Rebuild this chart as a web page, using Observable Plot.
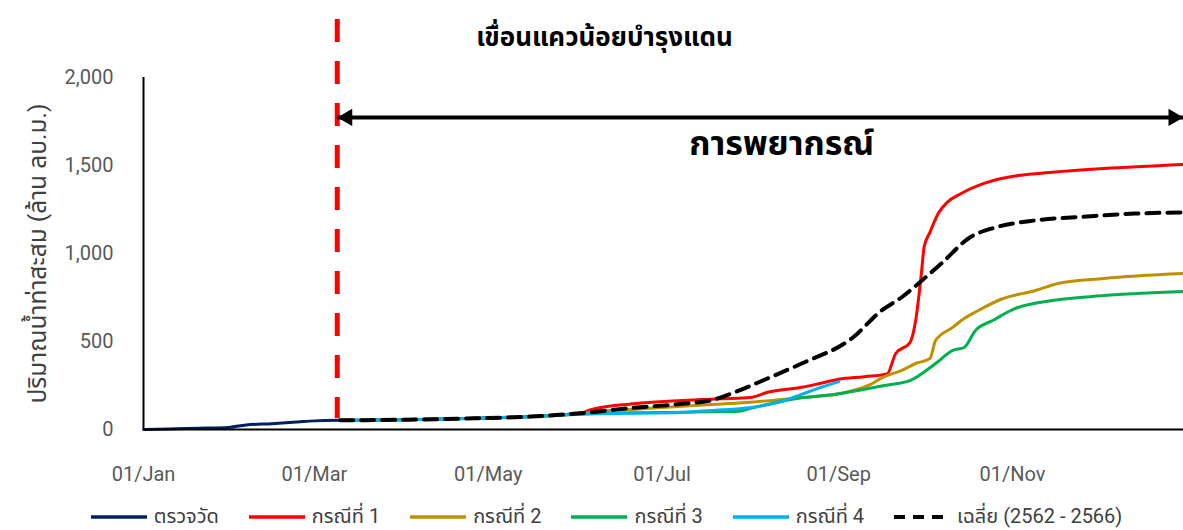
<!DOCTYPE html>
<html>
<head>
<meta charset="utf-8">
<script src="https://cdn.jsdelivr.net/npm/d3@7"></script>
<script src="https://cdn.jsdelivr.net/npm/@observablehq/plot@0.6"></script>
<style>
  body { margin: 0; background: #fff; font-family: Roboto, "Noto Sans", "Noto Sans Thai", Tahoma, sans-serif; }
  #legend { display: flex; justify-content: center; align-items: center; gap: 30px; height: 34px; font-size: 20px; color: #404040; padding-left: 30px; }
  .item { display: flex; align-items: center; gap: 7px; white-space: nowrap; }
</style>
</head>
<body>
<div id="chart"></div>
<div id="legend"></div>
<script>
// Cumulative inflow, Khwae Noi Bamrung Daen dam (million m³), year 2567
const title = "เขื่อนแควน้อยบำรุงแดน";
const yLabel = "ปริมาณน้ำท่าสะสม (ล้าน ลบ.ม.)";
const forecastText = "การพยากรณ์";
const forecastStart = "2024-03-09";
const yearEnd = "2024-12-31";
const arrowLevel = 1773;
const forecastLabelAt = ["2024-08-12", 1620];

const xTicks = ["2024-01-01", "2024-03-01", "2024-05-01", "2024-07-01", "2024-09-01", "2024-11-01"];
const yTicks = [0, 500, 1000, 1500, 2000];

// [date, cumulative volume]
const observed = [
  ["2024-01-01", 0], ["2024-01-10", 3], ["2024-01-20", 7], ["2024-01-31", 12],
  ["2024-02-06", 26], ["2024-02-15", 33], ["2024-02-20", 38], ["2024-02-25", 44],
  ["2024-03-01", 49], ["2024-03-10", 52]
];
const case1 = [
  ["2024-03-10", 52], ["2024-03-19", 53], ["2024-04-23", 62], ["2024-05-16", 74],
  ["2024-06-02", 92], ["2024-06-06", 112], ["2024-06-20", 145], ["2024-07-08", 165],
  ["2024-07-22", 175], ["2024-08-01", 182], ["2024-08-07", 212], ["2024-08-19", 240],
  ["2024-08-25", 260], ["2024-09-01", 285], ["2024-09-10", 300], ["2024-09-18", 316],
  ["2024-09-21", 432], ["2024-09-26", 494], ["2024-09-28", 619], ["2024-09-30", 886],
  ["2024-10-01", 1040], ["2024-10-03", 1120], ["2024-10-06", 1230], ["2024-10-09", 1290],
  ["2024-10-14", 1341], ["2024-10-22", 1398], ["2024-10-28", 1426], ["2024-11-03", 1443],
  ["2024-11-15", 1462], ["2024-12-03", 1483], ["2024-12-31", 1506]
];
const case2 = [
  ["2024-03-10", 52], ["2024-03-19", 53], ["2024-04-23", 62], ["2024-05-16", 74],
  ["2024-06-02", 90], ["2024-06-10", 105], ["2024-06-20", 114], ["2024-07-08", 132],
  ["2024-07-22", 145], ["2024-08-01", 155], ["2024-08-19", 182], ["2024-08-31", 200],
  ["2024-09-12", 255], ["2024-09-17", 300], ["2024-09-23", 335], ["2024-09-28", 375],
  ["2024-10-03", 403], ["2024-10-05", 506], ["2024-10-11", 580], ["2024-10-14", 619],
  ["2024-10-20", 676], ["2024-10-28", 740], ["2024-11-09", 790], ["2024-11-17", 830],
  ["2024-12-03", 858], ["2024-12-31", 886]
];
const case3 = [
  ["2024-03-10", 52], ["2024-03-19", 53], ["2024-04-23", 62], ["2024-05-16", 72],
  ["2024-06-02", 86], ["2024-06-20", 95], ["2024-07-08", 98], ["2024-07-22", 102],
  ["2024-07-28", 104], ["2024-08-01", 120], ["2024-08-19", 180], ["2024-08-31", 200],
  ["2024-09-17", 250], ["2024-09-26", 278], ["2024-10-05", 375], ["2024-10-11", 449],
  ["2024-10-15", 466], ["2024-10-19", 563], ["2024-10-25", 619], ["2024-11-02", 688],
  ["2024-11-15", 733], ["2024-12-03", 761], ["2024-12-31", 784]
];
const case4 = [
  ["2024-03-10", 52], ["2024-03-19", 53], ["2024-04-23", 62], ["2024-05-16", 74],
  ["2024-06-02", 90], ["2024-06-20", 93], ["2024-07-08", 97], ["2024-07-22", 112],
  ["2024-07-29", 119], ["2024-08-07", 140], ["2024-08-13", 165], ["2024-08-19", 200],
  ["2024-08-25", 235], ["2024-09-01", 272]
];
const average = [
  ["2024-03-10", 52], ["2024-03-19", 53], ["2024-04-23", 62], ["2024-05-16", 74],
  ["2024-06-02", 92], ["2024-06-20", 122], ["2024-07-08", 146], ["2024-07-18", 165],
  ["2024-07-27", 215], ["2024-08-07", 290], ["2024-08-19", 375], ["2024-09-06", 523],
  ["2024-09-16", 676], ["2024-09-23", 750], ["2024-09-29", 830], ["2024-10-07", 943],
  ["2024-10-17", 1091], ["2024-10-26", 1148], ["2024-11-09", 1188], ["2024-11-27", 1210],
  ["2024-12-14", 1227], ["2024-12-31", 1233]
];

const seriesNames = ["ตรวจวัด", "กรณีที่ 1", "กรณีที่ 2", "กรณีที่ 3", "กรณีที่ 4", "เฉลี่ย (2562 - 2566)"];
const seriesColors = ["#002060", "#ff0000", "#bf9000", "#00b050", "#00b0f0", "#000000"];
const seriesData = [observed, case1, case2, case3, case4, average];

const parse = d3.utcParse("%Y-%m-%d");
const rows = (pairs) => pairs.map(([d, v]) => ({date: parse(d), value: v}));
const thaiFont = 'Roboto, "Noto Sans Thai", Tahoma, "Noto Sans", sans-serif';

const lineMarks = seriesData.map((pairs, i) =>
  Plot.line(rows(pairs), {
    x: "date", y: "value",
    stroke: seriesColors[i],
    strokeWidth: i === 5 ? 4 : 3,
    strokeDasharray: i === 5 ? "13,8" : null,
    curve: "monotone-x"
  })
);

const start = parse(forecastStart);
const end = parse(yearEnd);

const chart = Plot.plot({
  width: 1183,
  height: 500,
  marginTop: 77,
  marginBottom: 71,
  marginLeft: 143,
  marginRight: 0,
  style: {fontFamily: thaiFont, fontSize: "20px", color: "#595959", background: "#fff"},
  x: {
    type: "utc",
    domain: [parse("2024-01-01"), end],
    ticks: xTicks.map(parse),
    tickFormat: d3.utcFormat("%d/%b"),
    tickSize: 0,
    tickPadding: 37,
    label: null
  },
  y: {
    domain: [0, 2000],
    ticks: yTicks,
    tickFormat: d3.format(","),
    tickSize: 0,
    tickPadding: 30,
    label: null
  },
  marks: [
    ...lineMarks,
    // axis lines
    Plot.ruleY([0], {stroke: "#000", strokeWidth: 2}),
    Plot.ruleX([parse("2024-01-01")], {stroke: "#000", strokeWidth: 2}),
    // start of the forecast period
    Plot.ruleX([start], {y1: 2330, y2: 62, stroke: "#ff0000", strokeWidth: 5, strokeDasharray: "23,19"}),
    // forecast span arrow
    Plot.link([{x1: start, x2: end}], {x1: "x1", x2: "x2", y1: arrowLevel, y2: arrowLevel, stroke: "#000", strokeWidth: 4}),
    Plot.dot([start], {x: d => d, y: arrowLevel, symbol: "triangle", r: 6.4, fill: "#000", stroke: null, rotate: -90, dx: 10}),
    Plot.dot([end], {x: d => d, y: arrowLevel, symbol: "triangle", r: 6.4, fill: "#000", stroke: null, rotate: 90, dx: -10}),
    Plot.text([forecastText], {x: parse(forecastLabelAt[0]), y: forecastLabelAt[1], text: d => d, fontSize: 34, fontWeight: "bold", fill: "#000"}),
    // title and y-axis label
    Plot.text([title], {frameAnchor: "top", lineAnchor: "middle", textAnchor: "middle", dy: -40, dx: -59, text: d => d, fontSize: 26, fontWeight: "bold", fill: "#000"}),
    Plot.text([yLabel], {frameAnchor: "left", textAnchor: "middle", lineAnchor: "middle", dx: -105, rotate: -90, text: d => d, fontSize: 24.5, fill: "#404040"})
  ]
});
document.getElementById("chart").append(chart);

// legend
const legend = document.getElementById("legend");
seriesNames.forEach((name, i) => {
  const item = document.createElement("div");
  item.className = "item";
  const dash = i === 5 ? 'stroke-dasharray="11,8"' : "";
  item.innerHTML = `<svg width="56" height="10"><line x1="0" x2="56" y1="5" y2="5" stroke="${seriesColors[i]}" stroke-width="${i === 5 ? 4 : 3.5}" ${dash}/></svg><span>${name}</span>`;
  legend.append(item);
});
</script>
</body>
</html>
